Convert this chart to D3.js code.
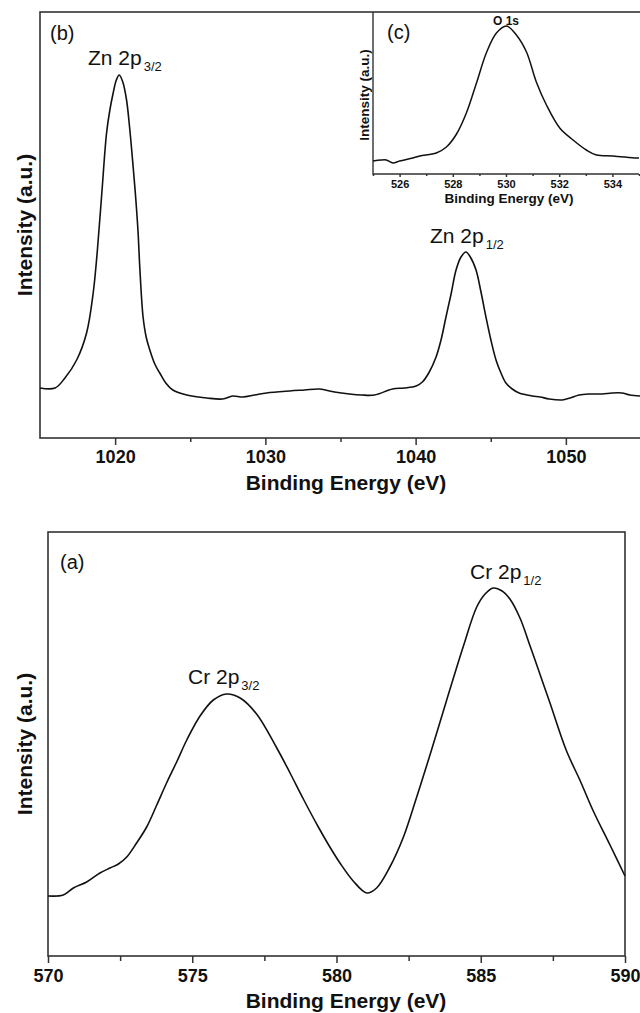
<!DOCTYPE html>
<html>
<head>
<meta charset="utf-8">
<script src="https://cdn.jsdelivr.net/npm/d3@7"></script>
<style>
  body { margin: 0; background: #fff; }
  svg { display: block; font-family: "Liberation Sans", Arial, sans-serif; }
  .tick line { stroke: #333; stroke-width: 1.5; }
  .tick text { font-weight: bold; fill: #111; }
  .domain { display: none; }
</style>
</head>
<body>
<svg id="chart" width="640" height="1013"></svg>
<script>
// (b) Zn 2p region
const znEnergy = [1015.0, 1016.0, 1016.66, 1017.44, 1018.10, 1018.54, 1018.82, 1019.12, 1019.43, 1019.65,
    1019.87, 1020.08, 1020.27, 1020.51, 1020.76, 1020.98, 1021.20, 1021.38, 1021.53, 1021.64,
    1021.86, 1022.08, 1022.31, 1022.64, 1022.97, 1023.37, 1023.84, 1024.77, 1026.10, 1027.16,
    1027.82, 1028.49, 1029.29, 1030.08, 1031.61, 1032.61, 1033.60, 1034.60, 1035.60, 1036.40,
    1037.26, 1038.46, 1039.25, 1040.03, 1040.45, 1040.91, 1041.36, 1041.69, 1042.02, 1042.36,
    1042.69, 1043.02, 1043.35, 1043.64, 1044.02, 1044.35, 1044.68, 1045.01, 1045.35, 1045.68,
    1046.01, 1046.43, 1046.89, 1047.76, 1048.29, 1048.89, 1049.75, 1050.28, 1050.88, 1051.54,
    1052.41, 1053.07, 1053.73, 1054.26, 1055.0];
const znIntensity = [50, 50, 60, 78, 105, 145, 188, 246, 305, 328,
    345, 358, 363, 356, 338, 308, 271, 238, 205, 171,
    121, 100, 88, 74, 65, 55, 48, 43, 40, 39,
    42, 41, 43, 45, 47, 48, 49, 46, 44, 43,
    43, 49, 50, 52, 56, 66, 81, 98, 121, 144,
    168, 181, 186, 181, 168, 146, 121, 98, 78, 65,
    55, 49, 45, 42, 41, 39, 38, 40, 43, 44,
    44, 45, 45, 43, 42];
const znTicks = [1020, 1030, 1040, 1050];
const znMinor = [1025, 1035, 1045];

// (c) O 1s inset
const oEnergy = [525.0, 525.3, 525.5, 525.75, 526.0, 526.5, 526.76, 527.38, 527.76, 528.14,
    528.51, 528.89, 529.26, 529.64, 530.02, 530.39, 530.77, 531.14, 531.52, 532.02,
    532.52, 533.02, 533.40, 534.02, 534.9, 535.0];
const oIntensity = [13, 14, 14, 11, 13, 16, 18, 21, 27, 40,
    61, 91, 121, 141, 148, 139, 122, 92, 69, 46,
    34, 24, 19, 18, 16, 16];
const oTicks = [526, 528, 530, 532, 534];
const oMinor = [525, 527, 529, 531, 533, 535];

// (a) Cr 2p region
const crEnergy = [570.00, 570.53, 570.88, 571.34, 571.80, 572.15, 572.44, 572.73, 573.07, 573.42,
    573.77, 574.11, 574.46, 574.81, 575.27, 575.73, 576.19, 576.66, 577.23, 577.93,
    578.39, 578.85, 579.37, 579.77, 580.12, 580.58, 581.05, 581.39, 581.85, 582.32,
    582.78, 583.24, 583.82, 584.40, 584.86, 585.15, 585.43, 585.74, 586.01, 586.36,
    586.71, 587.05, 587.40, 587.96, 588.45, 588.90, 589.48, 590.00];
const crIntensity = [60, 61, 68, 74, 83, 88, 92, 99, 113, 129,
    151, 173, 194, 216, 240, 256, 262, 258, 242, 208,
    183, 157, 129, 109, 93, 75, 63, 68, 89, 119,
    159, 201, 256, 310, 349, 362, 368, 365, 357, 338,
    310, 282, 253, 206, 175, 145, 111, 80];
const crTicks = [570, 575, 580, 585, 590];
const crMinor = [572.5, 577.5, 582.5, 587.5];

const svg = d3.select("#chart");

function drawPanel(opts) {
    const g = svg.append("g");
    const b = opts.box;

    const x = d3.scaleLinear().domain(opts.xDomain).range([b.left, b.right]);
    const y = d3.scaleLinear().domain(opts.yDomain).range([b.bottom, b.top]);

    // minor ticks
    g.append("g")
        .attr("transform", `translate(0,${b.bottom})`)
        .call(d3.axisBottom(x).tickValues(opts.minor).tickSize(opts.minorSize).tickFormat(""));

    // major ticks + labels
    g.append("g")
        .attr("transform", `translate(0,${b.bottom})`)
        .call(d3.axisBottom(x)
            .tickValues(opts.ticks)
            .tickSize(opts.tickSize)
            .tickPadding(opts.pad)
            .tickFormat(d3.format("d")))
        .attr("font-family", "'Liberation Sans', Arial, sans-serif")
        .attr("font-size", opts.tickFont);

    // frame
    if (opts.frame) {
        g.append("rect")
            .attr("x", b.left)
            .attr("y", b.top)
            .attr("width", b.right - b.left)
            .attr("height", b.bottom - b.top)
            .attr("fill", "none")
            .attr("stroke", "#333")
            .attr("stroke-width", 1.6);
    } else {
        g.append("path")
            .attr("d", `M${b.left},${b.top}V${b.bottom}H${b.right}`)
            .attr("fill", "none")
            .attr("stroke", "#333")
            .attr("stroke-width", 1.4);
    }

    const line = d3.line()
        .x(d => x(d[0]))
        .y(d => y(d[1]))
        .curve(d3.curveCatmullRom.alpha(0.5));

    g.append("path")
        .datum(d3.zip(opts.energy, opts.intensity))
        .attr("fill", "none")
        .attr("stroke", "#111")
        .attr("stroke-width", opts.lineWidth)
        .attr("stroke-linejoin", "round")
        .attr("d", line);

    // axis titles
    g.append("text")
        .attr("x", opts.xTitle[0])
        .attr("y", opts.xTitle[1])
        .attr("text-anchor", "middle")
        .attr("font-size", opts.titleFont)
        .attr("font-weight", "bold")
        .attr("fill", "#111")
        .text("Binding Energy (eV)");

    g.append("text")
        .attr("transform", `translate(${opts.yTitle[0]},${opts.yTitle[1]}) rotate(-90)`)
        .attr("text-anchor", "middle")
        .attr("font-size", opts.titleFont)
        .attr("font-weight", "bold")
        .attr("fill", "#111")
        .text("Intensity (a.u.)");

    return g;
}

function peakLabel(g, px, py, main, sub, size) {
    const t = g.append("text")
        .attr("x", px)
        .attr("y", py)
        .attr("font-size", size)
        .attr("fill", "#111");
    t.append("tspan").text(main);
    t.append("tspan")
        .attr("font-size", 13)
        .attr("dx", 2)
        .attr("dy", 6)
        .text(sub);
}

function panelLabel(g, px, py, txt) {
    g.append("text")
        .attr("x", px)
        .attr("y", py)
        .attr("font-size", 20)
        .attr("fill", "#111")
        .text(txt);
}

const panelB = drawPanel({
    energy: znEnergy, intensity: znIntensity,
    xDomain: [1015, 1055], yDomain: [0, 426],
    box: {left: 40, right: 641, top: 12, bottom: 438},
    ticks: znTicks, minor: znMinor,
    tickSize: 7, minorSize: 4, pad: 5, tickFont: 18,
    titleFont: 21, xTitle: [346, 490], yTitle: [32, 225],
    frame: true, lineWidth: 1.6
});
panelLabel(panelB, 50, 40, "(b)");
peakLabel(panelB, 88, 65, "Zn 2p", "3/2", 21);
peakLabel(panelB, 430, 243, "Zn 2p", "1/2", 21);

const panelC = drawPanel({
    energy: oEnergy, intensity: oIntensity,
    xDomain: [525, 535], yDomain: [0, 162],
    box: {left: 373, right: 639, top: 12, bottom: 174},
    ticks: oTicks, minor: oMinor,
    tickSize: 3, minorSize: 2, pad: 3, tickFont: 11,
    titleFont: 13.5, xTitle: [509, 203], yTitle: [369, 95],
    frame: false, lineWidth: 1.5
});
panelLabel(panelC, 387, 39, "(c)");
panelC.append("text")
    .attr("x", 506)
    .attr("y", 25)
    .attr("text-anchor", "middle")
    .attr("font-size", 12)
    .attr("font-weight", "bold")
    .attr("fill", "#111")
    .text("O 1s");

const panelA = drawPanel({
    energy: crEnergy, intensity: crIntensity,
    xDomain: [570, 590], yDomain: [0, 424],
    box: {left: 48, right: 625, top: 532, bottom: 956},
    ticks: crTicks, minor: crMinor,
    tickSize: 7, minorSize: 5, pad: 6, tickFont: 18,
    titleFont: 21, xTitle: [346, 1008], yTitle: [32, 744],
    frame: true, lineWidth: 1.6
});
panelLabel(panelA, 60, 569, "(a)");
peakLabel(panelA, 188, 684, "Cr 2p", "3/2", 21);
peakLabel(panelA, 470, 579, "Cr 2p", "1/2", 21);
</script>
</body>
</html>
